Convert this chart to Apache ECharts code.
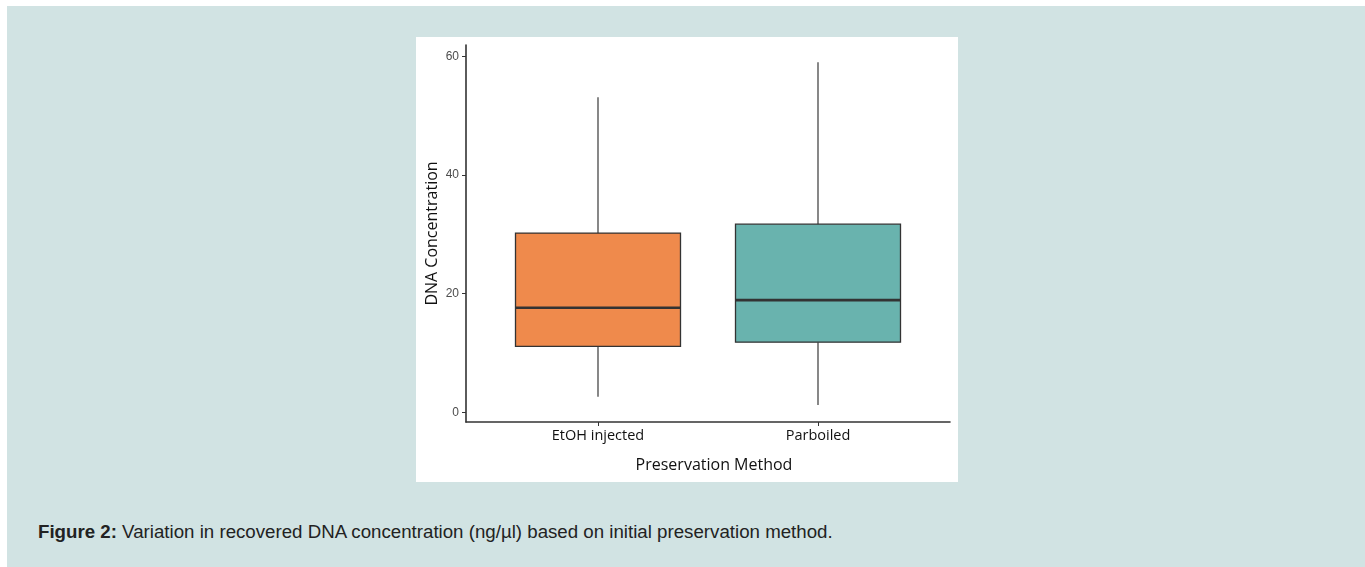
<!DOCTYPE html>
<html>
<head>
<meta charset="utf-8">
<script src="https://cdn.jsdelivr.net/npm/echarts@6/dist/echarts.min.js"></script>
<style>
  html, body { margin:0; padding:0; width:1365px; height:567px; background:#ffffff; overflow:hidden; }
  #bg { position:absolute; left:7px; top:6px; width:1358px; height:561px; background:#d1e3e3; }
  #panel { position:absolute; left:416px; top:37px; width:542px; height:445px; background:#ffffff; }
  #caption { position:absolute; left:38px; top:521px; font-family:"Liberation Sans", Arial, sans-serif; font-size:18.7px; color:#222; white-space:nowrap; }
  #chart { position:absolute; left:0; top:0; width:1365px; height:567px; }
</style>
</head>
<body>
<div id="bg"></div>
<div id="panel"></div>
<div id="caption"><b>Figure 2:</b> Variation in recovered DNA concentration (ng/µl) based on initial preservation method.</div>
<div id="chart"></div>
<script>
// ---- data ----
const categories = ['EtOH injected', 'Parboiled'];
const whiskerLow = [2.6, 1.2];
const q1 = [11.1, 11.8];
const median = [17.6, 18.9];
const q3 = [30.2, 31.7];
const whiskerHigh = [53.1, 59.0];
const boxColors = ['#ef8a4c', '#69b3ae'];
const yTicks = [0, 20, 40, 60];
const xPositions = [1, 2];

const seriesData = categories.map((c, i) => [xPositions[i], whiskerLow[i], q1[i], median[i], q3[i], whiskerHigh[i]]);

const chart = echarts.init(document.getElementById('chart'), null, { renderer: 'canvas' });

const option = {
  backgroundColor: 'transparent',
  animation: false,
  grid: { left: 466, right: 415, top: 45, bottom: 145, containLabel: false },
  xAxis: {
    type: 'value',
    min: 0.4, max: 2.6,
    name: 'Preservation Method',
    nameLocation: 'middle',
    nameGap: 35,
    nameTextStyle: { fontFamily: 'Open Sans', fontSize: 16, color: '#111', padding: [0, 0, 0, 12] },
    axisLine: { show: true, onZero: false, lineStyle: { color: '#333', width: 1.6 } },
    axisTick: { show: true, customValues: xPositions, length: 4, lineStyle: { color: '#333', width: 1 } },
    axisLabel: {
      customValues: xPositions,
      formatter: v => categories[Math.round(v) - 1] || '',
      margin: 6,
      fontFamily: 'Open Sans', fontSize: 14.5, color: '#111'
    },
    splitLine: { show: false }
  },
  yAxis: {
    type: 'value',
    min: -1.65, max: 61.9,
    name: 'DNA Concentration',
    nameLocation: 'middle',
    nameGap: 26,
    nameRotate: 90,
    nameTextStyle: { fontFamily: 'Open Sans', fontSize: 16, color: '#111' },
    axisLine: { show: true, onZero: false, lineStyle: { color: '#333', width: 1.6 } },
    axisTick: { show: true, customValues: yTicks, length: 4, lineStyle: { color: '#333', width: 1 } },
    axisLabel: {
      customValues: yTicks,
      margin: 7,
      fontFamily: 'Liberation Sans', fontSize: 12, color: '#4d4d4d'
    },
    splitLine: { show: false }
  },
  series: [{
    type: 'custom',
    data: seriesData,
    encode: { x: 0, y: [1, 2, 3, 4, 5] },
    renderItem: function (params, api) {
      const x = api.value(0);
      const lo = api.coord([x, api.value(1)]);
      const b1 = api.coord([x, api.value(2)]);
      const md = api.coord([x, api.value(3)]);
      const b3 = api.coord([x, api.value(4)]);
      const hi = api.coord([x, api.value(5)]);
      const w = api.size([0.75, 0])[0];
      const left = lo[0] - w / 2;
      const color = boxColors[params.dataIndex];
      return {
        type: 'group',
        children: [
          { type: 'line', shape: { x1: hi[0], y1: hi[1], x2: b3[0], y2: b3[1] }, style: { stroke: '#555', lineWidth: 1.4 } },
          { type: 'line', shape: { x1: b1[0], y1: b1[1], x2: lo[0], y2: lo[1] }, style: { stroke: '#555', lineWidth: 1.4 } },
          { type: 'rect', shape: { x: left, y: b3[1], width: w, height: b1[1] - b3[1] }, style: { fill: color, stroke: '#333', lineWidth: 1.3 } },
          { type: 'line', shape: { x1: left, y1: md[1], x2: left + w, y2: md[1] }, style: { stroke: '#333', lineWidth: 2.6 } }
        ]
      };
    }
  }]
};
chart.setOption(option);
</script>
</body>
</html>
